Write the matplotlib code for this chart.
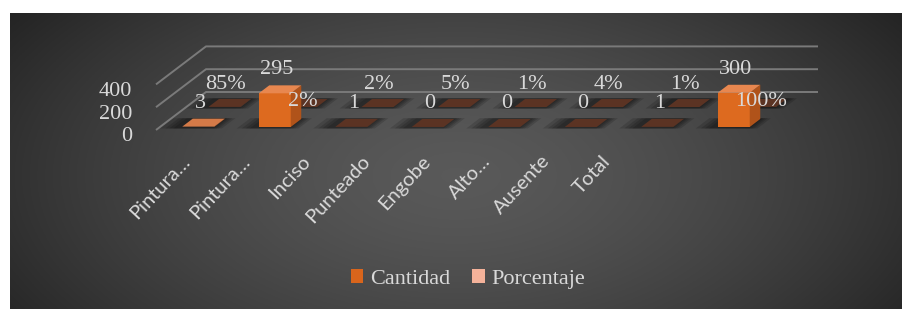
import numpy as np
import matplotlib
matplotlib.use("Agg")
import matplotlib.pyplot as plt
from matplotlib.patches import Polygon, Patch

# ---------------- data ----------------
categories = ["Pintura…", "Pintura…", "Inciso", "Punteado", "Engobe", "Alto…", "Ausente", "Total"]
series_names = ["Cantidad", "Porcentaje"]
cantidad = [3, 295, 1, 0, 0, 0, 1, 300]
porcentaje = [0.85, 0.02, 0.02, 0.05, 0.01, 0.04, 0.01, 1.00]
value_ticks = [0, 200, 400]

# ---------------- figure ----------------
W, H = 903, 309
fig = plt.figure(figsize=(W / 100, H / 100), dpi=100)
fig.patch.set_facecolor("white")

# radial gradient background
bg = fig.add_axes([10 / W, 0, (W - 10) / W, (H - 13) / H])
ny, nx = 200, 600
yy, xx = np.mgrid[0:1:ny * 1j, 0:1:nx * 1j]
r = np.sqrt(((xx - 0.5) / 0.6) ** 2 + ((yy - 0.55) / 0.95) ** 2)
r = np.clip(r, 0, 1)
c0, c1 = 0.35, 0.145
img = c0 + (c1 - c0) * r ** 1.5
bg.imshow(np.dstack([img] * 3), extent=[0, 1, 0, 1], aspect="auto", origin="upper")
bg.axis("off")

# ---------------- oblique 3D frame ----------------
PX_CAT = 76.5     # pixels per category
PX_VAL = 0.114    # pixels per value unit
X0, Y0 = 156, 130  # floor front-left corner in pixels
DEPTH_PX = (50, 38)

ax = fig.add_axes([0, 0, 1, 1])
ax.set_xlim(-0.5 - X0 / PX_CAT, -0.5 + (W - X0) / PX_CAT)
ax.set_ylim(-(H - Y0) / PX_VAL, Y0 / PX_VAL)
ax.axis("off")
ax.patch.set_alpha(0)

DX = DEPTH_PX[0] / PX_CAT
DY = DEPTH_PX[1] / PX_VAL
n = len(categories)


def P(x, t, v):
    return (x + DX * t, v + DY * t)


TXT = "#D9D9D9"
GRID = "#7A7A7A"
SERIF = "Liberation Serif"

# walls (gridlines)
for v in value_ticks:
    a = P(-0.5, 0, v)
    b = P(-0.5, 1, v)
    c = P(n - 0.5, 1, v)
    ax.plot([a[0], b[0], c[0]], [a[1], b[1], c[1]], color=GRID, lw=1.4,
            solid_capstyle="butt", zorder=1)
    ax.annotate(str(v), xy=a, xytext=(-17, -5), textcoords="offset points",
                ha="right", va="center", color=TXT, fontsize=16, family=SERIF)

# ---------------- bars ----------------
BAR_W = 32 / PX_CAT
rows = [(0.605, 0.815), (0.08, 0.29)]  # back (Porcentaje), front (Cantidad)
series_vals = [porcentaje, cantidad]
front_col = ["#F0A988", "#DD6A1F"]
top_col = ["#F6BCA4", "#E8874F"]
side_col = ["#C98E74", "#B0531A"]
FLAT = "#5B3323"
x = np.arange(n)

for si, (vals, (t0, t1)) in enumerate(zip(series_vals, rows)):
    z = 3 + si * 10
    # soft shadows
    for k, grow in enumerate([16, 11, 7, 3]):
        g = grow / PX_CAT
        for i in range(n):
            xl = x[i] - BAR_W / 2 - g - 4 / PX_CAT
            xr = x[i] + BAR_W / 2 + g * 0.6
            pts = [P(xl, t0 - 0.04, 0), P(xr, t0 - 0.04, 0), P(xr, t1 + 0.02, 0), P(xl, t1 + 0.02, 0)]
            ax.add_patch(Polygon(pts, closed=True, facecolor="black", edgecolor="none",
                                 alpha=0.14, zorder=z))
    # front faces
    ax.bar(x - BAR_W / 2 + DX * t0, vals, width=BAR_W, bottom=DY * t0, align="edge",
           color=front_col[si], edgecolor="none", zorder=z + 1)
    # side and top faces
    for i in range(n):
        v = vals[i]
        xl, xr = x[i] - BAR_W / 2, x[i] + BAR_W / 2
        side = [P(xr, t0, 0), P(xr, t1, 0), P(xr, t1, v), P(xr, t0, v)]
        ax.add_patch(Polygon(side, closed=True, facecolor=side_col[si], edgecolor="none",
                             zorder=z + 1))
        top = [P(xl, t0, v), P(xr, t0, v), P(xr, t1, v), P(xl, t1, v)]
        tc = FLAT
        if si == 1 and v >= 2:
            tc = top_col[si] if v > 50 else "#D47A48"
        ax.add_patch(Polygon(top, closed=True, facecolor=tc, edgecolor="none",
                             zorder=z + 2))

# ---------------- data labels ----------------
for i in range(n):
    # back row (Porcentaje)
    t0 = rows[0][0]
    xy = P(x[i], t0, porcentaje[i])
    dy = 4 if cantidad[i] > 100 else 16
    ax.annotate(f"{round(porcentaje[i] * 100)}%", xy=xy, xytext=(1.0, dy),
                textcoords="offset points", ha="center", va="center",
                color=TXT, fontsize=16, family=SERIF, zorder=30)
    # front row (Cantidad)
    t0 = rows[1][0]
    xy = P(x[i], t0, cantidad[i])
    ax.annotate(str(cantidad[i]), xy=xy, xytext=(1.5, 17),
                textcoords="offset points", ha="center", va="center",
                color=TXT, fontsize=16, family=SERIF, zorder=30)

# ---------------- category labels ----------------
LABEL_SPREAD = 60 / PX_CAT
for i, lab in enumerate(categories):
    lx = -0.5 + 31 / PX_CAT + LABEL_SPREAD * i
    ly = (Y0 - 158) / PX_VAL
    ax.text(lx, ly, lab, rotation=47, rotation_mode="anchor", ha="right", va="center",
            color=TXT, fontsize=14.5, family="Lato", zorder=30)

# ---------------- legend ----------------
handles = [Patch(facecolor="#D9651C", edgecolor="none"),
           Patch(facecolor="#F4B29A", edgecolor="none")]
leg = fig.legend(handles=handles, labels=series_names, loc="center",
                 bbox_to_anchor=(468 / W, 1 - 279 / H), ncol=2, frameon=False,
                 prop={"family": SERIF, "size": 16}, labelcolor=TXT,
                 handlelength=0.55, handleheight=0.55, handletextpad=0.3,
                 columnspacing=1.0)

fig.savefig("out.png", dpi=100, facecolor=fig.get_facecolor())
